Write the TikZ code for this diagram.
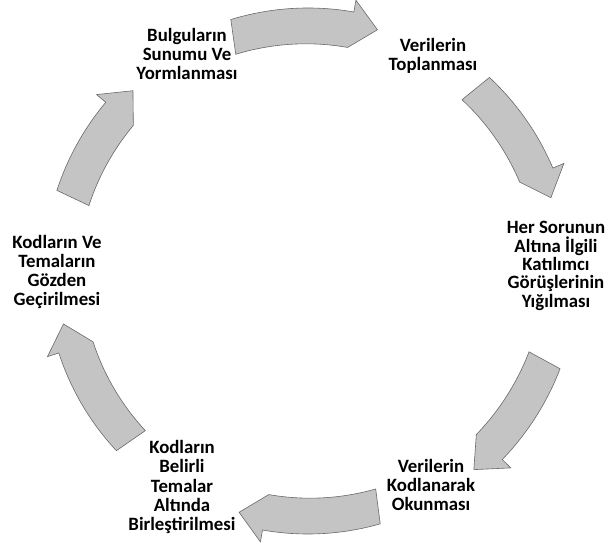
\documentclass[tikz,border=0pt]{standalone}
\usepackage{fontspec}
\setmainfont{Carlito}
\definecolor{arrfill}{RGB}{196,196,196}
\definecolor{arrline}{RGB}{105,105,105}
\tikzset{
  lbl/.style={align=center, font=\fontsize{18.8}{19.3}\selectfont\bfseries, text=black, inner sep=0pt},
  lbltight/.style={lbl, font=\fontsize{18.8}{18.4}\selectfont\bfseries},
  blockarrow/.style={fill=arrfill, draw=arrline, line width=0.6pt, line join=miter}
}
\newcommand{\cycarrow}[5]{% #1 start angle, #2 end (tip) angle, #3 radius, #4 head angle length, #5 name
  \path[blockarrow] (#1:#3+12) arc[start angle=#1, end angle=#2+#4, radius=#3+12]
    -- (#2+#4:#3+24) -- (#2:#3) -- (#2+#4:#3-24)
    arc[start angle=#2+#4, end angle=#1, radius=#3-12] -- cycle;
  \coordinate (#5) at ({(#1+#2)/2}:#3);
}
\begin{document}
\begin{tikzpicture}[x=1pt,y=1pt]
\useasboundingbox (0,0) rectangle (607,545);
\node[lbl] (n1) at (187,491) {Bulguların\\Sunumu Ve\\Yormlanması};
\node[lbl] (n2) at (433,489) {Verilerin\\Toplanması};
\node[lbltight] (n3) at (556,279) {Her Sorunun\\Altına İlgili\\Katılımcı\\Görüşlerinin\\Yığılması};
\node[lbl] (n4) at (431,60) {Verilerin\\Kodlanarak\\Okunması};
\node[lbl] (n5) at (182,58) {Kodların\\Belirli\\Temalar\\Altında\\Birleştirilmesi};
\node[lbl] (n6) at (57,273) {Kodların Ve\\Temaların\\Gözden\\Geçirilmesi};
\begin{scope}[shift={(308,273)}]
  \cycarrow{107}{74}{252}{6}{a1}
  \cycarrow{47}{17}{254}{6}{a2}
  \cycarrow{-21}{-50}{258}{6}{a3}
  \cycarrow{-74}{-106}{250}{6}{a4}
  \cycarrow{-137}{-168}{250}{6}{a5}
  \cycarrow{162}{134}{252}{6}{a6}
\end{scope}
\end{tikzpicture}
\end{document}
